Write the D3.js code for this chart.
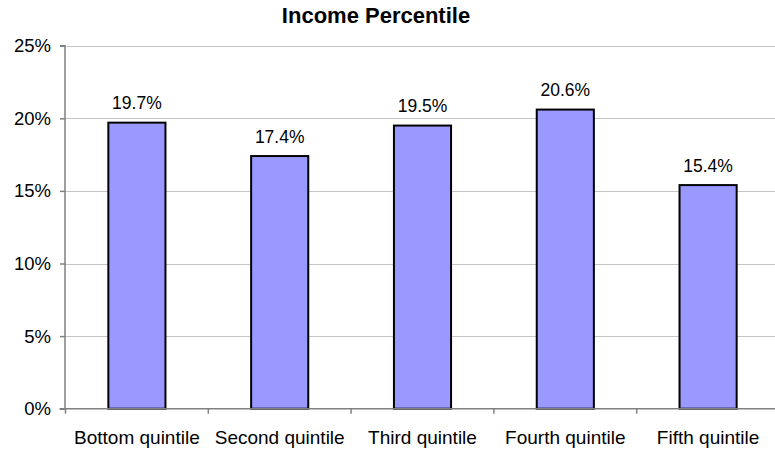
<!DOCTYPE html>
<html><head><meta charset="utf-8">
<script src="https://cdn.jsdelivr.net/npm/d3@7"></script>
<style>body{margin:0;background:#fff;} svg{display:block;font-family:"Liberation Sans",Arial,sans-serif;}</style>
</head><body>
<svg id="c" width="775" height="449"></svg>
<script>
const categories = ["Bottom quintile","Second quintile","Third quintile","Fourth quintile","Fifth quintile"];
const values = [19.7, 17.4, 19.5, 20.6, 15.4];
const yTicks = [0, 5, 10, 15, 20, 25];
const title = "Income Percentile";

(function(){
const svg = d3.select("#c");
const mLeft = 65.5, mRight = 779.5, mTop = 45.7, mBottom = 408.7;

const x = d3.scaleBand().domain(categories).range([mLeft, mRight]).paddingInner(0).paddingOuter(0);
const y = d3.scaleLinear().domain([0, 25]).range([mBottom, mTop]);

// gridlines
svg.append("g").selectAll("line").data(yTicks.filter(d => d > 0)).join("line")
  .attr("x1", mLeft).attr("x2", mRight)
  .attr("y1", d => Math.round(y(d)) + 0.5).attr("y2", d => Math.round(y(d)) + 0.5)
  .attr("stroke", "#8a8a8a").attr("stroke-width", 1).attr("stroke-dasharray", "1,1");

// bars
const bw = x.bandwidth() * 0.4;
svg.append("g").selectAll("rect").data(values).join("rect")
  .attr("x", (d, i) => x(categories[i]) + (x.bandwidth() - bw) / 2)
  .attr("y", d => y(d))
  .attr("width", bw)
  .attr("height", d => mBottom - y(d))
  .attr("fill", "#9999ff").attr("stroke", "#000").attr("stroke-width", 2);

// value labels
svg.append("g").selectAll("text").data(values).join("text")
  .attr("x", (d, i) => x(categories[i]) + x.bandwidth() / 2)
  .attr("y", d => y(d) - 13.5)
  .attr("text-anchor", "middle").attr("font-size", 17.5).attr("fill", "#000")
  .text(d => d.toFixed(1) + "%");

// y axis
const yAxis = d3.axisLeft(y).tickValues(yTicks).tickFormat(d => d + "%").tickSize(5).tickPadding(9);
const gy = svg.append("g").attr("transform", `translate(${mLeft - 0.5},0)`).call(yAxis);
gy.select(".domain").attr("stroke", "#808080").attr("stroke-width", 1.5).attr("d", `M-5,${mTop}H0V${mBottom}`);
gy.selectAll(".tick line").attr("stroke", "#808080").attr("stroke-width", 1.5);
gy.selectAll(".tick text").attr("font-size", 18.5).attr("fill", "#000").attr("font-family", "Liberation Sans, Arial, sans-serif");

// x axis
const gx = svg.append("g").attr("transform", `translate(0,${mBottom})`);
gx.append("line").attr("x1", mLeft - 6).attr("x2", mRight).attr("y1", 0).attr("y2", 0)
  .attr("stroke", "#808080").attr("stroke-width", 1.5);
const bounds = categories.map(c => x(c)).concat([mRight]);
gx.selectAll(".tk").data(bounds).join("line").attr("class", "tk")
  .attr("x1", d => d).attr("x2", d => d).attr("y1", 0).attr("y2", 5)
  .attr("stroke", "#808080").attr("stroke-width", 1.5);
gx.selectAll("text").data(categories).join("text")
  .attr("x", d => x(d) + x.bandwidth() / 2)
  .attr("y", 35)
  .attr("text-anchor", "middle").attr("font-size", 19).attr("fill", "#000")
  .text(d => d);

// title
svg.append("text").attr("x", 376).attr("y", 23).attr("text-anchor", "middle")
  .attr("font-size", 22).attr("font-weight", "bold").attr("fill", "#000").text(title);
})();
</script>
</body></html>
